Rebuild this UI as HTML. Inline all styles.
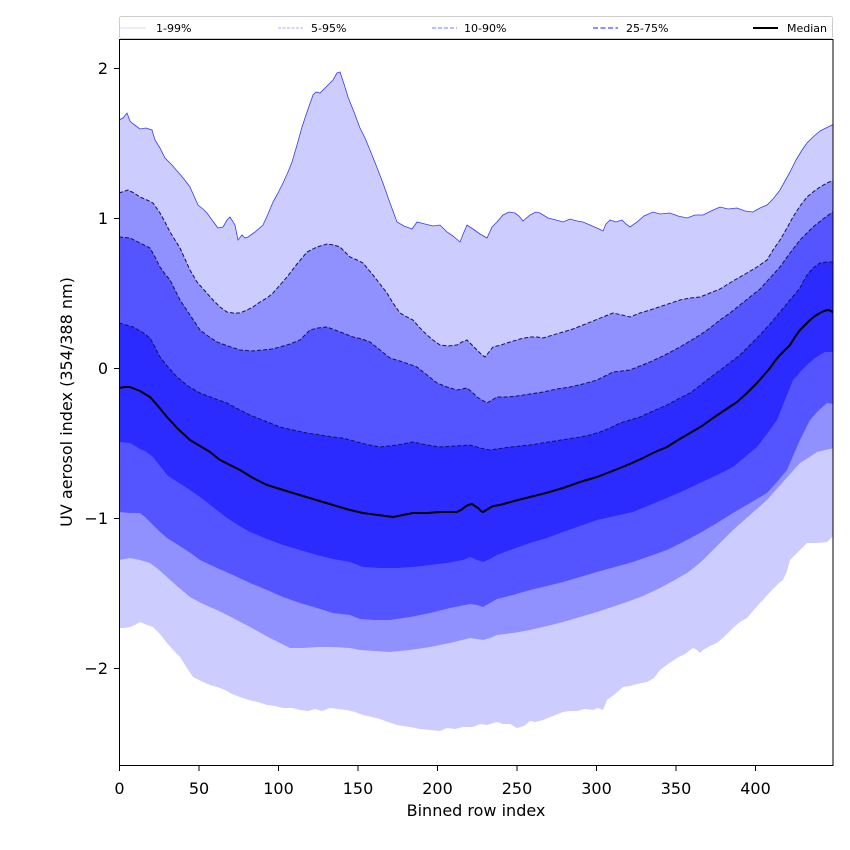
<!DOCTYPE html>
<html><head><meta charset="utf-8"><style>
html,body{margin:0;padding:0;background:#fff;}
svg{display:block;}
text{font-family:"DejaVu Sans","Liberation Sans",sans-serif;}
</style></head><body>
<svg width="850" height="850" viewBox="0 0 850 850" xmlns="http://www.w3.org/2000/svg">
<defs><clipPath id="pa"><rect x="119.5" y="39.5" width="713.5" height="726"/></clipPath></defs>
<rect width="850" height="850" fill="#fff"/>
<g clip-path="url(#pa)">
<!-- 1-99 band -->
<path fill="#ccccff" d="M119,120 L123,118 127,113 130,121 132,123 136,126 140,129 146,128 152,130 155,140 160,148 165,158 171,164 178,172 184,179 190,187 194,196 198,205 203,209 207,213 212,220 218,228 223,227 227,220 230,217 235,225 238,240 242,235 245,238 248,237 255,232 263,225 268,214 273,202 278,193 283,183 288,172 292,162 297,145 302,127 307,112 313,95 316,92 320,93 325,88 330,83 333,80 337,73 340,72 344,84 348,97 354,112 360,128 365,138 370,150 376,165 383,183 390,203 397,222 404,226 412,229 417,222 425,224 433,226 440,225 447,232 453,236 460,242 464,232 467,225 473,229 480,234 487,238 492,227 497,222 503,215 509,212 515,213 519,216 523,221 530,215 536,212 540,213 548,218 556,220 563,222 570,219 577,221 583,222 590,225 597,228 603,231 606,224 610,220 616,222 622,220 626,224 630,227 637,222 644,216 653,212 660,214 670,213 678,216 687,218 695,215 703,215 711,211 720,207 728,209 737,208 745,211 753,212 760,208 767,205 773,199 780,190 785,181 790,172 796,160 802,150 807,143 813,137 820,131 826,128 830,126 834,124 L834,535 827,542 817,543 807,543 798,552 790,560 787,571 783,580 779,583 777,585 770,592 763,600 760,603 753,611 747,618 740,622 733,628 725,636 717,643 710,646 703,650 700,653 697,650 693,648 685,654 677,658 668,664 660,670 654,678 647,682 637,684 630,686 623,687 615,694 607,700 603,710 598,708 593,710 585,709 577,711 570,711 563,712 553,716 543,720 535,722 530,721 524,726 517,728 510,724 503,724 497,722 487,725 480,724 473,727 463,727 455,729 447,728 440,731 430,730 420,729 410,727 403,726 397,725 388,722 380,719 372,717 363,715 355,712 347,710 338,709 330,708 322,711 315,709 308,711 300,710 292,708 283,708 275,706 267,705 258,702 249,700 240,697 232,694 225,690 217,687 210,685 201,681 193,677 187,668 180,657 174,651 167,643 160,634 153,627 147,625 140,622 135,625 130,627 124,628 119,628 Z"/>
<!-- 5-95 band -->
<path fill="#9090ff" d="M119,193 L128,190 134,193 140,197 147,200 153,203 160,213 165,222 170,232 175,240 180,248 185,259 190,270 197,282 205,291 213,300 220,307 227,312 233,313 240,313 247,310 253,307 260,302 267,298 273,293 280,285 287,277 297,264 307,252 317,247 327,244 334,245 340,247 345,252 350,257 357,260 363,263 368,269 373,275 380,284 387,293 393,303 400,313 407,317 413,320 420,328 427,335 433,340 440,345 448,346 457,345 462,342 467,340 472,345 477,350 481,354 485,357 489,352 493,347 501,345 510,342 520,339 530,337 537,337 543,338 553,335 563,332 573,329 583,325 598,319 613,313 622,315 630,317 640,313 650,310 665,305 680,300 690,298 700,297 710,293 720,289 733,281 747,273 757,267 767,260 773,250 780,240 787,228 793,217 800,206 807,197 813,192 820,187 827,183 834,180 L834,448 825,450 817,452 808,458 800,463 783,482 767,500 750,515 733,530 718,545 703,560 695,567 687,573 673,581 660,588 643,596 627,602 612,607 597,612 580,617 563,622 547,626 530,630 513,633 497,635 490,638 483,640 477,639 470,638 450,643 430,647 410,650 390,652 375,651 360,650 350,648 333,647 317,647 303,648 290,648 270,638 250,627 233,618 217,610 203,604 190,597 178,587 167,577 158,569 150,563 140,560 130,558 119,560 Z"/>
<!-- 10-90 band -->
<path fill="#5555ff" d="M119,237 L130,238 140,243 150,248 155,257 160,267 165,274 170,280 175,290 180,300 190,315 200,330 208,336 217,342 228,346 240,350 252,351 263,350 272,349 280,347 290,344 300,340 305,335 310,330 318,328 327,327 335,330 343,333 353,337 362,339 370,342 380,350 390,358 403,362 417,367 427,375 437,383 447,387 457,390 462,389 467,388 472,392 477,397 482,400 487,403 492,400 497,397 507,397 517,396 530,394 543,392 557,389 570,387 583,384 597,380 605,376 613,372 622,371 630,370 640,366 650,362 665,355 680,347 690,341 700,335 710,328 720,320 730,313 740,305 750,297 760,289 770,278 780,267 790,253 800,240 807,233 813,227 823,219 834,211 L834,404 827,403 818,411 810,420 805,430 800,440 793,456 787,470 777,482 767,493 750,503 733,513 717,523 700,533 683,542 667,550 650,556 633,562 615,567 597,572 580,577 563,582 547,586 530,590 513,595 497,599 490,603 483,607 477,605 470,604 450,608 430,613 410,617 390,620 375,620 360,619 350,615 333,613 317,608 300,603 283,597 267,590 250,583 233,575 217,568 200,560 192,554 183,548 175,543 167,538 158,530 150,522 145,517 140,513 130,513 119,512 Z"/>
<!-- 25-75 band -->
<path fill="#2b2bff" d="M119,323 L126,325 133,327 142,332 150,338 155,347 160,357 168,367 177,377 188,386 200,393 213,398 227,403 238,409 250,415 265,421 280,427 293,430 307,433 320,435 333,437 342,438 350,440 365,444 380,447 397,445 413,442 427,445 440,447 455,446 470,445 480,448 490,450 510,447 530,445 555,441 580,437 590,435 600,432 610,428 620,423 630,420 640,417 653,411 667,405 678,399 690,393 698,387 707,380 723,368 740,355 750,345 760,335 770,324 780,312 790,300 800,288 803,282 807,275 813,268 820,263 827,262 834,262 L834,352 825,352 815,358 807,365 800,372 797,376 793,380 785,400 777,420 767,434 757,447 745,457 733,467 717,475 700,483 683,491 667,498 650,505 633,512 615,516 597,520 580,526 563,532 547,538 530,543 513,549 497,555 490,559 483,562 477,560 470,557 463,560 447,563 430,565 413,567 397,568 380,568 363,567 350,562 333,559 317,555 300,550 283,545 267,539 250,532 238,525 227,518 213,507 200,497 184,486 168,476 160,466 153,457 145,451 140,449 130,443 119,442 Z"/>
<!-- boundary lines -->
<path fill="none" stroke="#3a3aee" stroke-width="0.8" d="M119,120 L123,118 127,113 130,121 132,123 136,126 140,129 146,128 152,130 155,140 160,148 165,158 171,164 178,172 184,179 190,187 194,196 198,205 203,209 207,213 212,220 218,228 223,227 227,220 230,217 235,225 238,240 242,235 245,238 248,237 255,232 263,225 268,214 273,202 278,193 283,183 288,172 292,162 297,145 302,127 307,112 313,95 316,92 320,93 325,88 330,83 333,80 337,73 340,72 344,84 348,97 354,112 360,128 365,138 370,150 376,165 383,183 390,203 397,222 404,226 412,229 417,222 425,224 433,226 440,225 447,232 453,236 460,242 464,232 467,225 473,229 480,234 487,238 492,227 497,222 503,215 509,212 515,213 519,216 523,221 530,215 536,212 540,213 548,218 556,220 563,222 570,219 577,221 583,222 590,225 597,228 603,231 606,224 610,220 616,222 622,220 626,224 630,227 637,222 644,216 653,212 660,214 670,213 678,216 687,218 695,215 703,215 711,211 720,207 728,209 737,208 745,211 753,212 760,208 767,205 773,199 780,190 785,181 790,172 796,160 802,150 807,143 813,137 820,131 826,128 830,126 834,124"/>
<g fill="none" stroke="#10106a" stroke-width="1" stroke-dasharray="4,2">
<path d="M119,193 L128,190 134,193 140,197 147,200 153,203 160,213 165,222 170,232 175,240 180,248 185,259 190,270 197,282 205,291 213,300 220,307 227,312 233,313 240,313 247,310 253,307 260,302 267,298 273,293 280,285 287,277 297,264 307,252 317,247 327,244 334,245 340,247 345,252 350,257 357,260 363,263 368,269 373,275 380,284 387,293 393,303 400,313 407,317 413,320 420,328 427,335 433,340 440,345 448,346 457,345 462,342 467,340 472,345 477,350 481,354 485,357 489,352 493,347 501,345 510,342 520,339 530,337 537,337 543,338 553,335 563,332 573,329 583,325 598,319 613,313 622,315 630,317 640,313 650,310 665,305 680,300 690,298 700,297 710,293 720,289 733,281 747,273 757,267 767,260 773,250 780,240 787,228 793,217 800,206 807,197 813,192 820,187 827,183 834,180"/>
<path d="M119,237 L130,238 140,243 150,248 155,257 160,267 165,274 170,280 175,290 180,300 190,315 200,330 208,336 217,342 228,346 240,350 252,351 263,350 272,349 280,347 290,344 300,340 305,335 310,330 318,328 327,327 335,330 343,333 353,337 362,339 370,342 380,350 390,358 403,362 417,367 427,375 437,383 447,387 457,390 462,389 467,388 472,392 477,397 482,400 487,403 492,400 497,397 507,397 517,396 530,394 543,392 557,389 570,387 583,384 597,380 605,376 613,372 622,371 630,370 640,366 650,362 665,355 680,347 690,341 700,335 710,328 720,320 730,313 740,305 750,297 760,289 770,278 780,267 790,253 800,240 807,233 813,227 823,219 834,211"/>
<path d="M119,323 L126,325 133,327 142,332 150,338 155,347 160,357 168,367 177,377 188,386 200,393 213,398 227,403 238,409 250,415 265,421 280,427 293,430 307,433 320,435 333,437 342,438 350,440 365,444 380,447 397,445 413,442 427,445 440,447 455,446 470,445 480,448 490,450 510,447 530,445 555,441 580,437 590,435 600,432 610,428 620,423 630,420 640,417 653,411 667,405 678,399 690,393 698,387 707,380 723,368 740,355 750,345 760,335 770,324 780,312 790,300 800,288 803,282 807,275 813,268 820,263 827,262 834,262"/>
</g>
<!-- median -->
<path fill="none" stroke="#000" stroke-width="2" stroke-linejoin="round" d="M119,388 L125,387 130,387 140,391 150,397 158,406 167,417 178,429 190,440 200,446 210,452 220,460 230,465 240,470 253,478 267,485 280,489 293,493 313,499 333,505 343,508 350,510 363,513 378,515 393,517 403,515 413,513 427,513 440,512 450,512 457,512 461,510 465,507 468,505 472,504 475,506 478,508 481,511 483,512 488,509 493,506 500,505 507,503 518,500 530,497 546,493 563,488 580,482 597,477 610,472 620,468 632,463 643,458 655,452 667,447 678,440 690,433 702,426 713,418 725,410 737,402 747,393 757,383 764,375 770,368 775,361 780,355 785,350 790,345 795,337 800,330 805,325 810,320 815,316 820,313 824,311 828,310 831,311 834,313"/>
</g>
<!-- axes frame -->
<rect x="119.5" y="39.5" width="713.5" height="726" fill="none" stroke="#000" stroke-width="1"/>
<!-- legend -->
<rect x="119.5" y="16.5" width="713" height="22" rx="2" fill="#fff" fill-opacity="0.9" stroke="#cccccc" stroke-width="1"/>
<line x1="120" y1="28" x2="146" y2="28" stroke="#ccccff" stroke-width="0.8"/>
<text x="156" y="32" font-size="11" fill="#000">1-99%</text>
<line x1="278" y1="28" x2="303" y2="28" stroke="#9090ff" stroke-width="0.8" stroke-dasharray="3,1.5"/>
<text x="311" y="32" font-size="11" fill="#000">5-95%</text>
<line x1="432" y1="28" x2="457" y2="28" stroke="#7777ff" stroke-width="1.1" stroke-dasharray="4,2"/>
<text x="464" y="32" font-size="11" fill="#000">10-90%</text>
<line x1="593" y1="28" x2="618" y2="28" stroke="#6a6aff" stroke-width="1.5" stroke-dasharray="5,2.5"/>
<text x="626" y="32" font-size="11" fill="#000">25-75%</text>
<line x1="753" y1="28" x2="778" y2="28" stroke="#000" stroke-width="2"/>
<text x="787" y="32" font-size="11" fill="#000">Median</text>
<!-- x ticks -->
<g stroke="#000" stroke-width="1">
<line x1="119.5" y1="766" x2="119.5" y2="771"/>
<line x1="199" y1="766" x2="199" y2="771"/>
<line x1="278.5" y1="766" x2="278.5" y2="771"/>
<line x1="358" y1="766" x2="358" y2="771"/>
<line x1="437.5" y1="766" x2="437.5" y2="771"/>
<line x1="517" y1="766" x2="517" y2="771"/>
<line x1="596.5" y1="766" x2="596.5" y2="771"/>
<line x1="676" y1="766" x2="676" y2="771"/>
<line x1="755.5" y1="766" x2="755.5" y2="771"/>
<line x1="114" y1="68.5" x2="119.5" y2="68.5"/>
<line x1="114" y1="218.5" x2="119.5" y2="218.5"/>
<line x1="114" y1="368.5" x2="119.5" y2="368.5"/>
<line x1="114" y1="518.5" x2="119.5" y2="518.5"/>
<line x1="114" y1="668.5" x2="119.5" y2="668.5"/>
</g>
<g font-size="16" fill="#000" text-anchor="middle">
<text x="119.5" y="794">0</text>
<text x="199" y="794">50</text>
<text x="278.5" y="794">100</text>
<text x="358" y="794">150</text>
<text x="437.5" y="794">200</text>
<text x="517" y="794">250</text>
<text x="596.5" y="794">300</text>
<text x="676" y="794">350</text>
<text x="755.5" y="794">400</text>
</g>
<g font-size="16" fill="#000" text-anchor="end">
<text x="108" y="74">2</text>
<text x="108" y="224">1</text>
<text x="108" y="374">0</text>
<text x="108" y="524">−1</text>
<text x="108" y="674">−2</text>
</g>
<text x="476" y="816" font-size="16" text-anchor="middle" fill="#000">Binned row index</text>
<text transform="translate(72,402) rotate(-90)" font-size="16" text-anchor="middle" fill="#000">UV aerosol index (354/388 nm)</text>
</svg>
</body></html>
